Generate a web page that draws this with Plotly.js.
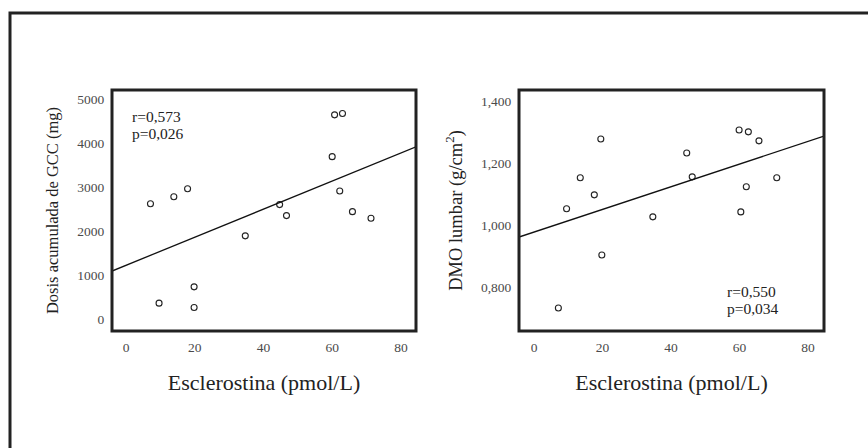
<!DOCTYPE html>
<html>
<head>
<meta charset="utf-8">
<script src="https://cdn.plot.ly/plotly-3.0.1.min.js"></script>
<style>html,body{margin:0;padding:0;background:#fff;}#chart{width:868px;height:448px;}</style>
</head>
<body>
<div id="chart"></div>
<script>
// ---- Data ----
const esclerostinaGCC = [7.1, 13.9, 17.9, 9.6, 19.8, 19.8, 34.7, 44.7, 46.7, 60.0, 60.7, 63.0, 62.2, 65.9, 71.3];
const dosisGCC = [2620, 2780, 2960, 360, 730, 260, 1890, 2600, 2350, 3690, 4640, 4670, 2910, 2440, 2290];
const fitGCC = { intercept: 1221, slope: 31.9 };
const statsGCC = ['r=0,573', 'p=0,026'];

const esclerostinaDMO = [19.5, 13.5, 17.6, 9.5, 34.7, 19.8, 7.1, 44.6, 46.2, 59.9, 62.6, 65.7, 62.0, 60.4, 70.9];
const dmoLumbar = [1.279, 1.154, 1.099, 1.054, 1.028, 0.905, 0.734, 1.234, 1.157, 1.308, 1.302, 1.273, 1.125, 1.044, 1.154];
const fitDMO = { intercept: 0.979, slope: 0.00365 };
const statsDMO = ['r=0,550', 'p=0,034'];

const xTickVals = [0, 20, 40, 60, 80];
const gccTickVals = [0, 1000, 2000, 3000, 4000, 5000];
const dmoTickVals = [0.8, 1.0, 1.2, 1.4];
const dmoTickText = ['0,800', '1,000', '1,200', '1,400'];

// ---- Layout constants ----
const W = 868, H = 448;
const serif = '"Liberation Serif", "Times New Roman", serif';
const xRange1 = [-4.1, 84.4], yRange1 = [-273, 5205];
const xRange2 = [-4.4, 84.7], yRange2 = [0.660, 1.437];

function lineFrom(fit, range) {
  return { x: range.slice(), y: range.map(v => fit.intercept + fit.slope * v) };
}
const l1 = lineFrom(fitGCC, xRange1);
const l2 = lineFrom(fitDMO, xRange2);

const markerStyle = { symbol: 'circle-open', size: 6, color: '#222', line: { width: 1.1, color: '#222' } };

const traces = [
  { x: esclerostinaGCC, y: dosisGCC, type: 'scatter', mode: 'markers', marker: markerStyle, xaxis: 'x', yaxis: 'y', hoverinfo: 'x+y' },
  { x: l1.x, y: l1.y, type: 'scatter', mode: 'lines', line: { color: '#111', width: 1.3 }, xaxis: 'x', yaxis: 'y' },
  { x: esclerostinaDMO, y: dmoLumbar, type: 'scatter', mode: 'markers', marker: markerStyle, xaxis: 'x2', yaxis: 'y2', hoverinfo: 'x+y' },
  { x: l2.x, y: l2.y, type: 'scatter', mode: 'lines', line: { color: '#111', width: 1.3 }, xaxis: 'x2', yaxis: 'y2' }
];

const yDom = [1 - 331 / H, 1 - 90 / H];
const tickFont = { family: serif, size: 13.5, color: '#4a4a4a' };
const titleFontX = { family: serif, size: 22, color: '#222' };

function xAxis(domain, range, anchor) {
  return {
    domain: domain, range: range, anchor: anchor,
    tickvals: xTickVals, ticks: 'outside', ticklen: 4, tickcolor: 'rgba(0,0,0,0)',
    tickfont: tickFont, showgrid: false, zeroline: false, showline: false,
    title: { text: 'Esclerostina (pmol/L)', font: titleFontX, standoff: 20 },
    automargin: false, fixedrange: true
  };
}

const layout = {
  width: W, height: H,
  margin: { l: 0, r: 0, t: 0, b: 0 },
  paper_bgcolor: '#fff', plot_bgcolor: '#fff',
  showlegend: false,
  font: { family: serif, color: '#222' },
  xaxis: xAxis([112 / W, 416 / W], xRange1, 'y'),
  yaxis: {
    domain: yDom, range: yRange1, anchor: 'x',
    tickvals: gccTickVals, ticks: 'outside', ticklen: 4, tickcolor: 'rgba(0,0,0,0)',
    tickfont: tickFont, showgrid: false, zeroline: false, showline: false,
    title: { text: 'Dosis acumulada de GCC (mg)', font: { family: serif, size: 16.5, color: '#222' }, standoff: 14 },
    automargin: false, fixedrange: true
  },
  xaxis2: xAxis([519 / W, 824 / W], xRange2, 'y2'),
  yaxis2: {
    domain: yDom, range: yRange2, anchor: 'x2',
    tickvals: dmoTickVals, ticktext: dmoTickText, ticks: 'outside', ticklen: 4, tickcolor: 'rgba(0,0,0,0)',
    tickfont: tickFont, showgrid: false, zeroline: false, showline: false,
    title: { text: 'DMO lumbar (g/cm<sup>2</sup>)', font: { family: serif, size: 18.5, color: '#222' }, standoff: 13 },
    automargin: false, fixedrange: true
  },
  shapes: [
    { type: 'rect', xref: 'x domain', yref: 'y domain', x0: 0, x1: 1, y0: 0, y1: 1, line: { color: '#222', width: 3 } },
    { type: 'rect', xref: 'x2 domain', yref: 'y2 domain', x0: 0, x1: 1, y0: 0, y1: 1, line: { color: '#222', width: 3 } },
    { type: 'path', xref: 'paper', yref: 'paper',
      path: 'M ' + (10 / W) + ',0 L ' + (10 / W) + ',' + (1 - 13 / H) + ' L 1,' + (1 - 13 / H),
      line: { color: '#222', width: 3 } }
  ],
  annotations: [
    { xref: 'paper', yref: 'paper', x: 130 / W, y: 1 - 116.5 / H, xanchor: 'left', yanchor: 'middle', text: statsGCC[0], showarrow: false, font: { family: serif, size: 15.5, color: '#222' } },
    { xref: 'paper', yref: 'paper', x: 130 / W, y: 1 - 133 / H, xanchor: 'left', yanchor: 'middle', text: statsGCC[1], showarrow: false, font: { family: serif, size: 15.5, color: '#222' } },
    { xref: 'paper', yref: 'paper', x: 725 / W, y: 1 - 291 / H, xanchor: 'left', yanchor: 'middle', text: statsDMO[0], showarrow: false, font: { family: serif, size: 15.5, color: '#222' } },
    { xref: 'paper', yref: 'paper', x: 725 / W, y: 1 - 308.5 / H, xanchor: 'left', yanchor: 'middle', text: statsDMO[1], showarrow: false, font: { family: serif, size: 15.5, color: '#222' } }
  ]
};

Plotly.newPlot('chart', traces, layout, { displayModeBar: false, staticPlot: true });
</script>
</body>
</html>
